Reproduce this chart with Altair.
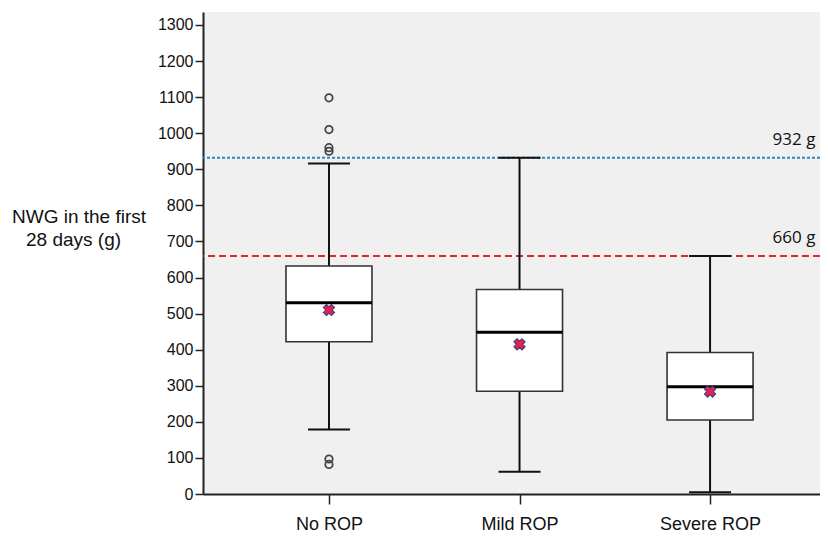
import altair as alt
import pandas as pd

categories = ["No ROP", "Mild ROP", "Severe ROP"]
whisker_low = [179, 62, 5]
q1 = [422, 285, 205]
median = [530, 448, 297]
q3 = [632, 567, 392]
whisker_high = [916, 932, 660]
mean = [510, 415, 284]

outlier_group = ["No ROP", "No ROP", "No ROP", "No ROP", "No ROP", "No ROP"]
outlier_values = [1098, 1010, 960, 950, 97, 82]

ref_values = [932, 660]
ref_labels = ["932 g", "660 g"]
y_ticks = list(range(0, 1301, 100))
y_title = ["NWG in the first", "28 days (g)"]

box = pd.DataFrame({
    "group": categories, "lo": whisker_low, "q1": q1, "med": median,
    "q3": q3, "hi": whisker_high, "mean": mean,
})
outl = pd.DataFrame({"group": outlier_group, "v": outlier_values})
refs = pd.DataFrame({"v": ref_values, "label": ref_labels})

xs = alt.Scale(type="point", domain=categories, padding=0.619, align=0.534)
ys = alt.Scale(domain=[0, 1336], nice=False, zero=True)

X = alt.X("group:N", scale=xs, sort=categories, axis=alt.Axis(
    title=None, labelAngle=0, labelFontSize=18, labelFont="Liberation Sans",
    labelColor="#111", tickSize=10, tickWidth=1.5, tickColor="#222",
    labelPadding=25, domainColor="#222", domainWidth=2, labelBaseline="alphabetic"))

yaxis = alt.Axis(
    values=y_ticks, format="d", title=None,
    labelFontSize=16, labelFont="Liberation Sans", labelColor="#111",
    tickSize=8, tickWidth=1.5, tickColor="#222", labelPadding=2,
    domainColor="#222", domainWidth=2, grid=False)


def Y(field):
    return alt.Y(field, scale=ys, axis=yaxis)


base = alt.Chart(box)

whisk_lo = base.mark_rule(color="#111", strokeWidth=2).encode(
    x=X, y=Y("lo:Q"), y2="q1:Q")
whisk_hi = base.mark_rule(color="#111", strokeWidth=2).encode(
    x=X, y=Y("q3:Q"), y2="hi:Q")
cap_lo = base.mark_tick(orient="horizontal", size=42, thickness=2, color="#111",
                        opacity=1).encode(x=X, y=Y("lo:Q"))
cap_hi = base.mark_tick(orient="horizontal", size=42, thickness=2, color="#111",
                        opacity=1).encode(x=X, y=Y("hi:Q"))
boxes = base.mark_bar(size=86, fill="white", stroke="#333", strokeWidth=1.6).encode(
    x=X, y=Y("q1:Q"), y2="q3:Q")
meds = base.mark_tick(orient="horizontal", size=86, thickness=3, color="#000",
                      opacity=1).encode(x=X, y=Y("med:Q"))
means = base.mark_point(shape="cross", angle=45, filled=True, fill="#e3224c",
                        stroke="#3a3a8a", strokeWidth=1, size=130, opacity=1).encode(
    x=X, y=Y("mean:Q"))

outs = alt.Chart(outl).mark_point(shape="circle", filled=False, stroke="#444",
                                  strokeWidth=1.8, size=55, opacity=1).encode(
    x=X, y=Y("v:Q"))

ref_blue = alt.Chart(refs).transform_filter(alt.datum.v == ref_values[0]).mark_rule(
    color="#2a88b8", strokeWidth=2, strokeDash=[3, 2]).encode(y=Y("v:Q"))
ref_red = alt.Chart(refs).transform_filter(alt.datum.v == ref_values[1]).mark_rule(
    color="#e02a30", strokeWidth=2, strokeDash=[7, 4]).encode(y=Y("v:Q"))
ref_text = alt.Chart(refs).mark_text(font="Open Sans", fontSize=17, color="#111",
                                     dy=-18, align="center").encode(
    x=alt.value(591), y=Y("v:Q"), text="label:N")

title_df = pd.DataFrame({"t": y_title})
title1 = alt.Chart(title_df).transform_filter(alt.datum.t == y_title[0]).mark_text(
    font="Liberation Sans", fontSize=19, color="#111", align="left", baseline="middle"
).encode(x=alt.value(-191), y=alt.value(205), text="t:N")
title2 = alt.Chart(title_df).transform_filter(alt.datum.t == y_title[1]).mark_text(
    font="Liberation Sans", fontSize=19, color="#111", align="left", baseline="middle"
).encode(x=alt.value(-177), y=alt.value(228), text="t:N")

chart = alt.layer(
    ref_blue, ref_red, whisk_lo, whisk_hi, cap_lo, cap_hi, boxes, meds, means, outs,
    ref_text, title1, title2
).properties(
    width=617, height=482,
    autosize=alt.AutoSizeParams(type="none"),
    padding={"left": 195, "top": 4, "right": 0, "bottom": 40},
    background="white",
).configure_view(fill="#f0f0f0", stroke=None)

chart.save("out.html", embed_options={"renderer": "svg", "actions": False})
